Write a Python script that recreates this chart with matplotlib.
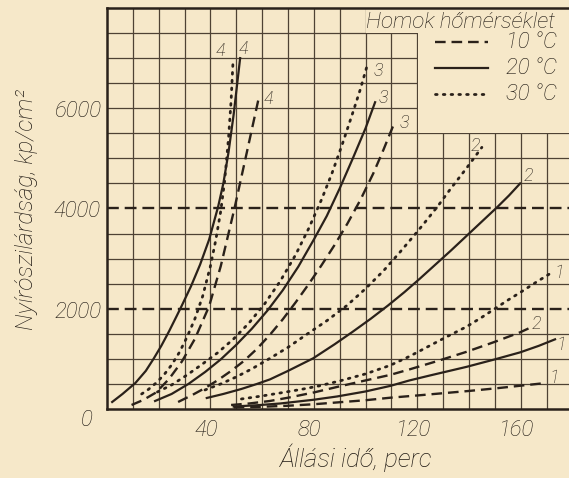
import matplotlib
matplotlib.use("Agg")
import matplotlib.pyplot as plt
from matplotlib.patches import Rectangle

# ---- data: shear strength (kp/cm^2) vs. standing time (min) ----
# group 4
g4_20_x = [2, 6, 11, 15, 18, 21, 24, 27, 29, 32.5, 36, 39.5, 43, 45, 47, 49, 51.5]
g4_20_y = [140, 300, 520, 760, 1000, 1260, 1550, 1860, 2070, 2450, 2880, 3380, 4040, 4500, 5120, 5880, 7000]
g4_30_x = [13.4, 16, 19, 22, 25, 28, 31, 34, 37, 40, 42, 44, 45.5, 47, 48, 48.8]
g4_30_y = [300, 390, 520, 680, 880, 1130, 1440, 1800, 2250, 2850, 3350, 3950, 4550, 5400, 6150, 6990]
g4_10_x = [9.5, 14, 19, 24, 29, 34, 39.5, 44, 49.3, 54, 58.8]
g4_10_y = [80, 180, 330, 600, 950, 1400, 2050, 2850, 4000, 5100, 6230]
# group 3
g3_20_x = [18.6, 25, 31.5, 38, 44, 50, 56, 62, 68, 74, 80, 85, 90, 95, 100, 103.7]
g3_20_y = [160, 300, 500, 740, 990, 1280, 1600, 1960, 2370, 2840, 3380, 3850, 4400, 4990, 5600, 6120]
g3_30_x = [19.5, 25, 31, 37, 43, 49, 55, 61, 67, 73, 78, 83, 87, 91, 95, 98, 100.5]
g3_30_y = [340, 480, 680, 900, 1130, 1400, 1720, 2100, 2550, 3080, 3600, 4180, 4700, 5280, 5900, 6380, 6830]
g3_10_x = [27.5, 33, 38, 43, 48, 53, 58, 63, 68, 73, 78, 83, 88, 93, 98, 103, 107, 111.4]
g3_10_y = [140, 280, 420, 580, 760, 960, 1200, 1480, 1790, 2130, 2490, 2870, 3270, 3700, 4170, 4700, 5180, 5740]
# group 2
g2_20_x = [38.6, 45, 52, 58, 63, 70, 79.7, 88, 95, 102, 108.7, 115, 121, 127, 133, 139, 145, 151, 155.5, 159.8]
g2_20_y = [220, 300, 400, 500, 590, 760, 1010, 1290, 1540, 1800, 2065, 2330, 2600, 2880, 3160, 3450, 3740, 4030, 4260, 4500]
g2_30_x = [37.9, 44, 50, 56, 63, 70, 77, 85, 92.8, 100, 107, 113, 119.9, 124, 128, 133, 139, 145]
g2_30_y = [380, 500, 640, 800, 1010, 1230, 1480, 1760, 2065, 2400, 2760, 3110, 3530, 3790, 4050, 4400, 4800, 5220]
g2_10_x = [48, 55, 63, 70, 80, 89, 100, 109.5, 117, 128, 139, 150, 159.8, 163.6]
g2_10_y = [80, 110, 160, 225, 330, 440, 570, 680, 790, 960, 1140, 1340, 1530, 1620]
# group 1
g1_30_x = [52, 60, 67, 75, 82, 90, 100, 109.5, 117, 124, 131, 139, 145, 150, 155, 160, 166, 172.6]
g1_30_y = [200, 260, 320, 390, 460, 560, 700, 870, 1050, 1240, 1430, 1640, 1830, 2000, 2170, 2330, 2530, 2740]
g1_20_x = [49, 58, 67, 80, 89, 100, 109.5, 117, 125, 139, 150, 159.8, 167, 173.3]
g1_20_y = [50, 75, 110, 185, 250, 350, 460, 570, 670, 840, 990, 1130, 1260, 1390]
g1_10_x = [49, 60, 70, 80, 90, 100, 109.5, 120, 130, 140, 150, 160, 170]
g1_10_y = [30, 45, 65, 95, 135, 175, 225, 270, 315, 360, 410, 465, 520]

x_ticks = [40, 80, 120, 160]
y_ticks = [2000, 4000, 6000]
temps = ["10 °C", "20 °C", "30 °C"]

BG = "#f6e8c9"
INK = "#2a211a"
TXT = "#1f1913"
GRID = "#4e4234"

W, H = 569, 478

styles = {
    "10": dict(linestyle=(0, (4.5, 2.5)), linewidth=1.7),
    "20": dict(linestyle="-", linewidth=1.6),
    "30": dict(linestyle=(0, (0.6, 2.2)), linewidth=2.0, dash_capstyle="round"),
}

curves = [
    (g4_20_x, g4_20_y, "20", "4", (52.6, 7180)),
    (g4_30_x, g4_30_y, "30", "4", (43.7, 7140)),
    (g4_10_x, g4_10_y, "10", "4", (62.3, 6180)),
    (g3_20_x, g3_20_y, "20", "3", (106.8, 6200)),
    (g3_30_x, g3_30_y, "30", "3", (104.8, 6740)),
    (g3_10_x, g3_10_y, "10", "3", (114.9, 5700)),
    (g2_20_x, g2_20_y, "20", "2", (162.9, 4650)),
    (g2_30_x, g2_30_y, "30", "2", (142.4, 5250)),
    (g2_10_x, g2_10_y, "10", "2", (166.0, 1700)),
    (g1_30_x, g1_30_y, "30", "1", (175.0, 2720)),
    (g1_20_x, g1_20_y, "20", "1", (175.6, 1270)),
    (g1_10_x, g1_10_y, "10", "1", (173.0, 610)),
]

plt.rcParams["font.family"] = ["Roboto", "DejaVu Sans"]
fig = plt.figure(figsize=(W / 100, H / 100), dpi=100, facecolor=BG)
ax = fig.add_axes([107 / W, 69 / H, 462 / W, 401 / H])
ax.set_facecolor(BG)
ax.set_xlim(0, 178.7)
ax.set_ylim(0, 8000)


def fpos(px, py):
    """pixel position (from top-left) -> figure fraction"""
    return px / W, 1 - py / H


# grid
for gx in range(10, 180, 10):
    ax.axvline(gx, color=GRID, lw=0.9, zorder=1)
for gy in range(500, 8000, 500):
    if gy in (2000, 4000):
        ax.axhline(gy, color=INK, lw=1.7, linestyle=(0, (5, 2.5)), zorder=1.2)
    else:
        ax.axhline(gy, color=GRID, lw=0.9, zorder=1)

# clear area behind the key
ax.add_patch(Rectangle((100.3, 7510), 80, 600, facecolor=BG, edgecolor="none", zorder=1.5))
ax.add_patch(Rectangle((120.3, 5510), 60, 2600, facecolor=BG, edgecolor="none", zorder=1.5))

txt_kw = dict(fontstyle="italic", fontweight="light", color=TXT)

# curves
for xs, ys, t, lab, (lx, ly) in curves:
    ax.plot(xs, ys, color=INK, zorder=3, **styles[t])
    ax.text(lx, ly, lab, fontsize=13, ha="center", va="center", zorder=4,
            clip_on=False, **txt_kw)

# spines / ticks
for side in ("left", "bottom", "top"):
    ax.spines[side].set_color(INK)
    ax.spines[side].set_linewidth(1.8)
    ax.spines[side].set_zorder(5)
ax.spines["right"].set_visible(False)
ax.set_xticks([])
ax.set_yticks([])

for xt in x_ticks:
    fig.text(*fpos(107 + xt * 2.585 - 4, 431), str(xt), ha="center", va="center",
             fontsize=16, **txt_kw)
for yt in y_ticks:
    py = 408.6 - yt * 0.05023
    fig.text(*fpos(101, py + 4), str(yt), ha="right", va="center", fontsize=16, **txt_kw)
fig.text(*fpos(87, 421), "0", ha="center", va="center", fontsize=16, **txt_kw)

fig.text(*fpos(356, 458), "Állási idő, perc", ha="center", va="center",
         fontsize=18.5, **txt_kw)
fig.text(*fpos(27, 210), "Nyírószilárdság, kp/cm²", ha="center", va="center",
         rotation=90, fontsize=17.5, **txt_kw)

# key
fig.text(*fpos(460, 22), "Homok hőmérséklet", ha="center", va="center",
         fontsize=16, **txt_kw)
for py, t, txt in [(42, "10", temps[0]), (68, "20", temps[1]), (94, "30", temps[2])]:
    fy = (409 - py) / 401
    ax.plot([0.71, 0.825], [fy, fy], transform=ax.transAxes, color=INK, zorder=4,
            **styles[t])
    fig.text(*fpos(506, py), txt, ha="left", va="center", fontsize=16, **txt_kw)

fig.savefig("out.png", dpi=100, facecolor=BG)
